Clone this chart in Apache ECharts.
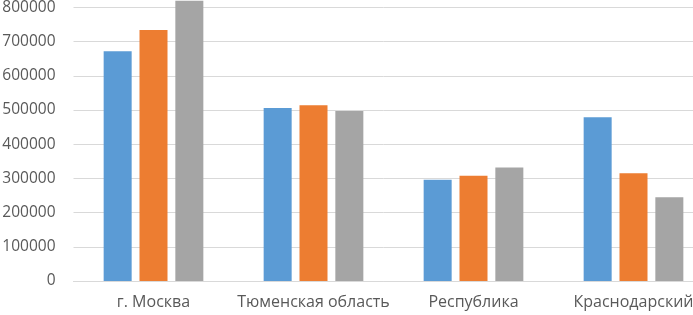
<!DOCTYPE html>
<html lang="ru">
<head>
  <meta charset="UTF-8">
  <title>Chart</title>
  <style>
    html, body { margin: 0; padding: 0; background: #fff; }
    #main { width: 693px; height: 315px; }
  </style>
</head>
<body>
  <div id="main"></div>
  <script src="https://cdn.jsdelivr.net/npm/echarts@6/dist/echarts.min.js"></script>
  <script>
    const categories = ['г. Москва', 'Тюменская область', 'Республика', 'Краснодарский'];
    const series1 = [672000, 506000, 296000, 479000];
    const series2 = [734000, 514000, 308000, 315000];
    const series3 = [820000, 497000, 332000, 245000];
    const colors = ['#5b9bd5', '#ed7d31', '#a5a5a5'];

    const chart = echarts.init(document.getElementById('main'));
    const font = '"Open Sans", sans-serif';

    // 900000 row sits above the visible area, like the cropped original
    const option = {
      animation: false,
      grid: { left: 73.5, right: -20.5, top: -26.7, bottom: 34, outerBoundsMode: 'none', containLabel: false },
      xAxis: {
        type: 'category',
        data: categories,
        axisLine: { lineStyle: { color: '#d9d9d9', width: 1 } },
        axisTick: { show: false },
        axisLabel: { color: '#595959', fontFamily: font, fontSize: 16, margin: 13, interval: 0, hideOverlap: false }
      },
      yAxis: {
        type: 'value',
        min: 0,
        max: 900000,
        interval: 100000,
        axisLine: { show: false },
        axisTick: { show: false },
        splitLine: { lineStyle: { color: '#d9d9d9', width: 1 } },
        axisLabel: {
          color: '#595959', fontFamily: font, fontSize: 15.5, margin: 18,
          formatter: v => String(v)
        }
      },
      series: [
        { type: 'bar', data: series1, barWidth: 28, barGap: '28%', itemStyle: { color: colors[0] } },
        { type: 'bar', data: series2, barWidth: 28, barGap: '28%', itemStyle: { color: colors[1] } },
        { type: 'bar', data: series3, barWidth: 28, barGap: '28%', itemStyle: { color: colors[2] } }
      ]
    };
    chart.setOption(option);
  </script>
</body>
</html>
